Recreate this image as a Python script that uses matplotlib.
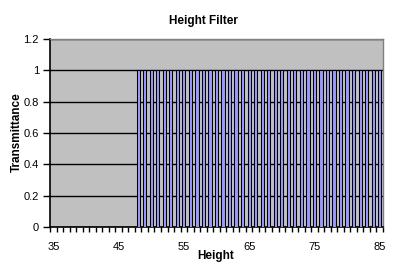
import numpy as np
import matplotlib.pyplot as plt
from matplotlib.ticker import FixedLocator

plt.rcParams['font.family'] = ['Liberation Sans', 'DejaVu Sans']

# chart data
heights = list(range(35, 86))
transmittance = [0] * 13 + [1] * 38
label_heights = [35, 45, 55, 65, 75, 85]

fig = plt.figure(figsize=(3.94, 2.75), dpi=100)
ax = fig.add_axes([50 / 394, 48 / 275, 333 / 394, 188 / 275])
ax.set_facecolor('#C0C0C0')

x = np.arange(len(heights))
ax.bar(x, transmittance, width=0.5, color='#9999FF', edgecolor='black',
       linewidth=0.75, zorder=3)

ax.set_xlim(-0.5, len(heights) - 0.5)
ax.set_ylim(0, 1.2)

ax.set_yticks(np.arange(0, 1.21, 0.2))
ax.set_yticklabels(['0', '0.2', '0.4', '0.6', '0.8', '1', '1.2'])
ax.grid(axis='y', color='black', linewidth=1, zorder=1)
ax.set_axisbelow(True)

label_pos = [heights.index(h) for h in label_heights]
ax.set_xticks(label_pos)
ax.set_xticklabels([str(h) for h in label_heights])
ax.xaxis.set_minor_locator(FixedLocator(np.arange(-0.5, len(heights), 1.0)))
ax.tick_params(axis='x', which='major', length=0, pad=11, labelsize=8)
ax.tick_params(axis='x', which='minor', length=3.5, width=1, direction='out')
ax.tick_params(axis='y', length=5, width=1, direction='out', pad=3, labelsize=8)

for side in ('top', 'right'):
    ax.spines[side].set_color('#808080')
    ax.spines[side].set_linewidth(1)
for side in ('left', 'bottom'):
    ax.spines[side].set_color('black')
    ax.spines[side].set_linewidth(1.2)

fig.text(203 / 394, 1 - 21 / 275, 'Height Filter', ha='center', va='center',
         fontsize=8.5, fontweight='bold')
fig.text(216 / 394, 1 - 256 / 275, 'Height', ha='center', va='center',
         fontsize=8.5, fontweight='bold')
fig.text(17 / 394, 1 - 132 / 275, 'Transmittance', ha='center', va='center',
         rotation=90, fontsize=8.5, fontweight='bold')

fig.savefig('out.png', dpi=100)
